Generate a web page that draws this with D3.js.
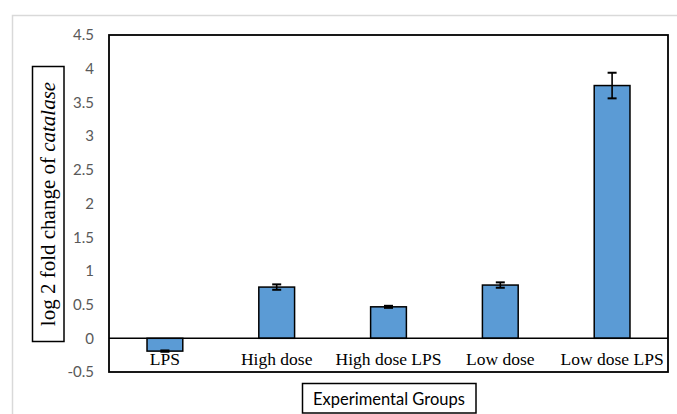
<!DOCTYPE html>
<html><head><meta charset="utf-8">
<script src="https://cdn.jsdelivr.net/npm/d3@7"></script>
<style>body{margin:0;background:#fff}svg{display:block}</style>
</head><body>
<script>
const categories = ["LPS", "High dose", "High dose LPS", "Low dose", "Low dose LPS"];
const values = [-0.19, 0.76, 0.467, 0.79, 3.75];
const errors = [0.01, 0.04, 0.015, 0.04, 0.19];
const yTicks = [-0.5, 0, 0.5, 1, 1.5, 2, 2.5, 3, 3.5, 4, 4.5];

const W = 677, H = 414;
const svg = d3.select("body").append("svg").attr("width", W).attr("height", H);

// outer chart border
svg.append("rect").attr("x", 12.5).attr("y", 15.5).attr("width", W).attr("height", H)
  .attr("fill", "none").attr("stroke", "#d9d9d9").attr("stroke-width", 1.5);

const L = 109, R = 668, T = 35, B = 372;
const x = d3.scaleBand().domain(categories).range([L, R]).paddingInner(0.68).paddingOuter(0.34);
const y = d3.scaleLinear().domain([-0.5, 4.5]).range([B, T]);

// tick labels
const yAxis = d3.axisLeft(y).tickValues(yTicks).tickSize(0).tickPadding(0).tickFormat(d => String(d));
const ga = svg.append("g").attr("transform", `translate(${94},0)`).call(yAxis);
ga.select(".domain").remove();
ga.selectAll("text").attr("fill", "#595959").style("font-family", "Lato, 'Open Sans', sans-serif").style("font-size", "15px");

// bars
svg.append("g").selectAll("rect").data(values).join("rect")
  .attr("x", (d, i) => x(categories[i]))
  .attr("width", x.bandwidth())
  .attr("y", d => y(Math.max(0, d)))
  .attr("height", d => Math.abs(y(d) - y(0)))
  .attr("fill", "#5B9BD5").attr("stroke", "#000").attr("stroke-width", 1.5);

// error bars
const eg = svg.append("g").attr("stroke", "#000").attr("stroke-width", 1.6);
values.forEach((v, i) => {
  const cx = x(categories[i]) + x.bandwidth() / 2;
  eg.append("line").attr("x1", cx).attr("x2", cx).attr("y1", y(v - errors[i])).attr("y2", y(v + errors[i]));
  [v - errors[i], v + errors[i]].forEach(e => {
    eg.append("line").attr("x1", cx - 4.5).attr("x2", cx + 4.5).attr("y1", y(e)).attr("y2", y(e)).attr("stroke-width", 2);
  });
});

// zero line
svg.append("line").attr("x1", L).attr("x2", R).attr("y1", y(0)).attr("y2", y(0))
  .attr("stroke", "#000").attr("stroke-width", 1.5);

// plot border
svg.append("rect").attr("x", L).attr("y", T).attr("width", R - L).attr("height", B - T)
  .attr("fill", "none").attr("stroke", "#000").attr("stroke-width", 1.8);

// category labels
svg.append("g").selectAll("text").data(categories).join("text")
  .attr("x", d => x(d) + x.bandwidth() / 2).attr("y", 365)
  .attr("text-anchor", "middle")
  .style("font-family", "'Liberation Serif', 'Times New Roman', serif").style("font-size", "17.5px")
  .attr("fill", "#000").text(d => d);

// y title box
svg.append("rect").attr("x", 32.5).attr("y", 66.5).attr("width", 31.5).attr("height", 275)
  .attr("fill", "#fff").attr("stroke", "#000").attr("stroke-width", 1.5);
const yt = svg.append("text").attr("transform", "translate(55,204) rotate(-90)")
  .attr("text-anchor", "middle")
  .style("font-family", "'Liberation Serif', 'Times New Roman', serif").style("font-size", "21px").attr("fill", "#000");
yt.append("tspan").text("log 2 fold change of ");
yt.append("tspan").attr("font-style", "italic").text("catalase");

// x title box
svg.append("rect").attr("x", 302.5).attr("y", 383.5).attr("width", 173.5).attr("height", 29.5)
  .attr("fill", "#fff").attr("stroke", "#000").attr("stroke-width", 1.5);
svg.append("text").attr("x", 389).attr("y", 404.5).attr("text-anchor", "middle")
  .style("font-family", "Lato, 'Open Sans', sans-serif").style("font-size", "16.5px").attr("fill", "#000")
  .text("Experimental Groups");
</script>
</body></html>
